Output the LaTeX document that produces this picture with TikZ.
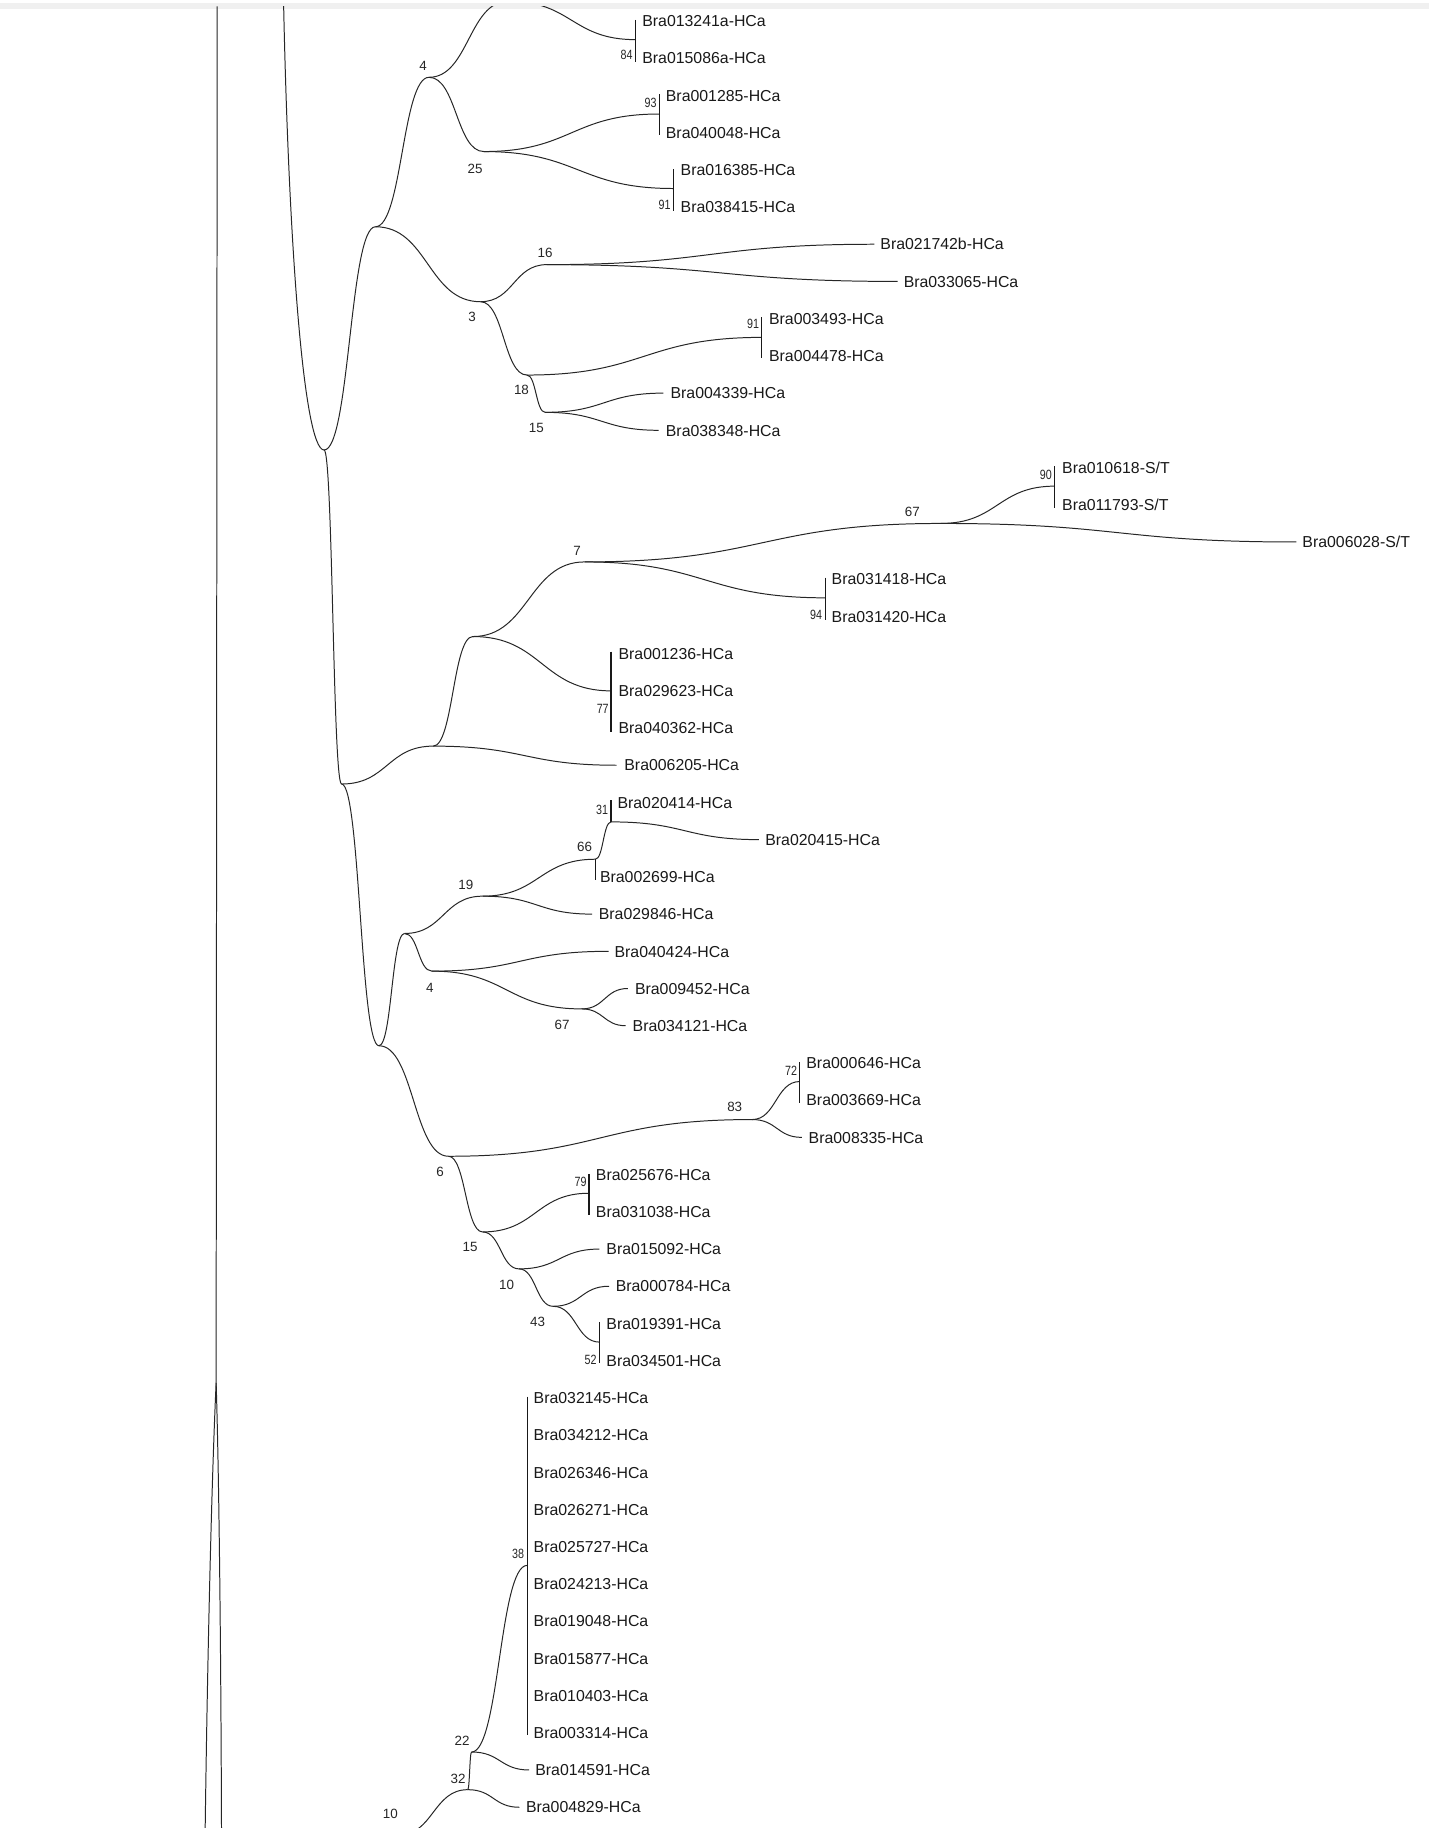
\documentclass[tikz,border=0pt]{standalone}
\usepackage{fontspec}
\setmainfont{Liberation Sans}
\usetikzlibrary{calc}
\tikzset{
  branch/.style={draw=black!85, line width=0.85pt},
  barline/.style={draw=black!90, line width=1.1pt},
  lab/.style={anchor=base west, inner sep=0pt, yshift=-4.9pt, font=\fontsize{13.6}{16}\selectfont, text=black!90},
  num/.style={anchor=base, inner sep=0pt, yshift=-4.1pt, font=\fontsize{11.5}{13}\selectfont, text=black!85},
  bnum/.style={num, xscale=0.8}
}
\newcommand\br[2]{\path[branch] let \p1=(#1), \p2=(#2) in (\p1) .. controls ({0.5*\x1+0.5*\x2},\y1) and ({0.5*\x1+0.5*\x2},\y2) .. (\p2);}
\begin{document}
\begin{tikzpicture}[x=1pt,y=-1pt]
\useasboundingbox (0,0) rectangle (1226,1568);
\fill[white] (0,0) rectangle (1226,1568);
\fill[gray!12] (0,3) rectangle (1226,7.5);
% ---------- tree nodes ----------
\coordinate (NU) at (278,386);
\coordinate (Ptop) at (243,-10);
\coordinate (Nr1) at (322,194.5);
\coordinate (N4) at (368,66.3);
\coordinate (X) at (436,1);
\coordinate (B01) at (545,34);
\coordinate (N25) at (415,130);
\coordinate (B23) at (565.5,97.8);
\coordinate (B45) at (577.6,161.7);
\coordinate (N3) at (412.2,258.8);
\coordinate (N16) at (469,227);
\coordinate (L6) at (750,209.5);
\coordinate (L7) at (770,241.4);
\coordinate (N18) at (452,321.7);
\coordinate (B89) at (653.4,289.4);
\coordinate (N15) at (467.6,353.7);
\coordinate (L10) at (569,337.2);
\coordinate (L11) at (565,369.1);
\coordinate (NB) at (293,672.5);
\coordinate (NC) at (371.6,640);
\coordinate (NE) at (405.6,546);
\coordinate (N7) at (501.4,482);
\coordinate (N67) at (807,449);
\coordinate (B1213) at (904.7,417);
\coordinate (L14) at (1112,464.9);
\coordinate (B1516) at (708.3,512.8);
\coordinate (B1719) at (524.2,592.6);
\coordinate (L20) at (529,656.4);
\coordinate (ND) at (325,897);
\coordinate (NF) at (347,800.7);
\coordinate (N19) at (413.9,768.7);
\coordinate (N66) at (510.7,737);
\coordinate (L23) at (510.7,755);
\coordinate (N31) at (524.2,705);
\coordinate (L21) at (524.2,686);
\coordinate (L22) at (651,720.2);
\coordinate (L24) at (508,784.1);
\coordinate (N4b) at (370.5,833);
\coordinate (L25) at (522,816);
\coordinate (N67b) at (499,865.4);
\coordinate (L26) at (538.5,847.9);
\coordinate (L27) at (536.6,879.8);
\coordinate (N6) at (384.7,991.8);
\coordinate (N83) at (645.2,960.3);
\coordinate (B2829) at (686,927.7);
\coordinate (L30) at (687.8,975.6);
\coordinate (N15b) at (413.9,1056.7);
\coordinate (B3132) at (505.3,1023.5);
\coordinate (N10) at (445.2,1088.4);
\coordinate (L33) at (514.2,1071.4);
\coordinate (N43) at (474.4,1120.5);
\coordinate (L34) at (522.4,1103.3);
\coordinate (B3536) at (514.2,1151.2);
\coordinate (N10c) at (342,1574);
\coordinate (N32) at (401.2,1535.1);
\coordinate (N22) at (404.5,1502.8);
\coordinate (N38) at (452.2,1342.7);
\coordinate (L47) at (453.8,1518.2);
\coordinate (L48) at (445.5,1550.2);
% left lines
\coordinate (Ltop) at (186.3,5.5);
\coordinate (Lsplit) at (185.4,1186);
\coordinate (Lbl) at (176,1568);
\coordinate (Lbr) at (190,1568);
% bars
\coordinate (b01t) at (545,17); \coordinate (b01b) at (545,53);
\coordinate (b23t) at (565.5,81); \coordinate (b23b) at (565.5,116);
\coordinate (b45t) at (577.6,145); \coordinate (b45b) at (577.6,181);
\coordinate (b89t) at (653.4,272); \coordinate (b89b) at (653.4,307.5);
\coordinate (b1213t) at (904.7,400); \coordinate (b1213b) at (904.7,436);
\coordinate (b1516t) at (708.3,495.5); \coordinate (b1516b) at (708.3,532);
\coordinate (b1719t) at (524.2,559); \coordinate (b1719b) at (524.2,628);
\coordinate (b2829t) at (686,911); \coordinate (b2829b) at (686,946);
\coordinate (b3132t) at (505.3,1007); \coordinate (b3132b) at (505.3,1042);
\coordinate (b3536t) at (514.2,1134); \coordinate (b3536b) at (514.2,1169);
\coordinate (b38t) at (452.2,1198); \coordinate (b38b) at (452.2,1488);

\begin{scope}
\clip (0,5.5) rectangle (1226,1568);
\path[branch] (Ptop) .. controls (247,200) and (260,386) .. (NU);
\br{NU}{Nr1} \br{NU}{NB}
\br{Nr1}{N4} \br{Nr1}{N3}
\br{N4}{X} \br{N4}{N25}
\br{X}{B01}
\br{N25}{B23} \br{N25}{B45}
\br{N3}{N16} \br{N3}{N18}
\br{N16}{L6} \br{N16}{L7}
\br{N18}{B89} \br{N18}{N15}
\br{N15}{L10} \br{N15}{L11}
\br{NB}{NC} \br{NB}{ND}
\br{NC}{NE} \br{NC}{L20}
\br{NE}{N7} \br{NE}{B1719}
\br{N7}{N67} \br{N7}{B1516}
\br{N67}{B1213} \br{N67}{L14}
\br{ND}{NF} \br{ND}{N6}
\br{NF}{N19} \br{NF}{N4b}
\br{N19}{N66} \br{N19}{L24}
\br{N66}{N31}
\path[barline] (N66) -- (L23);
\path[barline] (N31) -- (L21);
\br{N31}{L22}
\br{N4b}{L25} \br{N4b}{N67b}
\br{N67b}{L26} \br{N67b}{L27}
\br{N6}{N83} \br{N6}{N15b}
\br{N83}{B2829} \br{N83}{L30}
\br{N15b}{B3132} \br{N15b}{N10}
\br{N10}{L33} \br{N10}{N43}
\br{N43}{L34} \br{N43}{B3536}
\br{N10c}{N32}
\br{N32}{N22} \br{N32}{L48}
\br{N22}{N38} \br{N22}{L47}
\path[branch] (Ltop) -- (Lsplit);
\path[branch] (Lsplit) .. controls (181.5,1270) and (178,1420) .. (Lbl);
\path[branch] (Lsplit) .. controls (188,1270) and (189.5,1420) .. (Lbr);
\end{scope}
% bars
\foreach \b in {01,23,45,89,1213,1516,1719,2829,3132,3536,38}{\path[barline] (b\b t) -- (b\b b);}

% ---------- leaf labels ----------
\node[lab] (t0) at (550.8,18.0) {Bra013241a-HCa};
\node[lab] (t1) at (550.8,49.9) {Bra015086a-HCa};
\node[lab] (t2) at (571,81.8) {Bra001285-HCa};
\node[lab] (t3) at (571,113.8) {Bra040048-HCa};
\node[lab] (t4) at (583.7,145.7) {Bra016385-HCa};
\node[lab] (t5) at (583.7,177.6) {Bra038415-HCa};
\node[lab] (t6) at (755,209.5) {Bra021742b-HCa};
\node[lab] (t7) at (775,241.4) {Bra033065-HCa};
\node[lab] (t8) at (659.5,273.4) {Bra003493-HCa};
\node[lab] (t9) at (659.5,305.3) {Bra004478-HCa};
\node[lab] (t10) at (575,337.2) {Bra004339-HCa};
\node[lab] (t11) at (571,369.1) {Bra038348-HCa};
\node[lab] (t12) at (910.9,401.0) {Bra010618-S/T};
\node[lab] (t13) at (910.9,433.0) {Bra011793-S/T};
\node[lab] (t14) at (1117,464.9) {Bra006028-S/T};
\node[lab] (t15) at (713.2,496.8) {Bra031418-HCa};
\node[lab] (t16) at (713.2,528.7) {Bra031420-HCa};
\node[lab] (t17) at (530.4,560.6) {Bra001236-HCa};
\node[lab] (t18) at (530.4,592.6) {Bra029623-HCa};
\node[lab] (t19) at (530.4,624.5) {Bra040362-HCa};
\node[lab] (t20) at (535.4,656.4) {Bra006205-HCa};
\node[lab] (t21) at (529.5,688.3) {Bra020414-HCa};
\node[lab] (t22) at (656.3,720.2) {Bra020415-HCa};
\node[lab] (t23) at (514.5,752.2) {Bra002699-HCa};
\node[lab] (t24) at (513.5,784.1) {Bra029846-HCa};
\node[lab] (t25) at (527,816.0) {Bra040424-HCa};
\node[lab] (t26) at (544.5,847.9) {Bra009452-HCa};
\node[lab] (t27) at (542.5,879.8) {Bra034121-HCa};
\node[lab] (t28) at (691.5,911.8) {Bra000646-HCa};
\node[lab] (t29) at (691.5,943.7) {Bra003669-HCa};
\node[lab] (t30) at (693.5,975.6) {Bra008335-HCa};
\node[lab] (t31) at (511,1007.5) {Bra025676-HCa};
\node[lab] (t32) at (511,1039.4) {Bra031038-HCa};
\node[lab] (t33) at (520,1071.4) {Bra015092-HCa};
\node[lab] (t34) at (528,1103.3) {Bra000784-HCa};
\node[lab] (t35) at (520,1135.2) {Bra019391-HCa};
\node[lab] (t36) at (520,1167.1) {Bra034501-HCa};
\node[lab] (t37) at (457.6,1199.0) {Bra032145-HCa};
\node[lab] (t38) at (457.6,1231.0) {Bra034212-HCa};
\node[lab] (t39) at (457.6,1262.9) {Bra026346-HCa};
\node[lab] (t40) at (457.6,1294.8) {Bra026271-HCa};
\node[lab] (t41) at (457.6,1326.7) {Bra025727-HCa};
\node[lab] (t42) at (457.6,1358.6) {Bra024213-HCa};
\node[lab] (t43) at (457.6,1390.6) {Bra019048-HCa};
\node[lab] (t44) at (457.6,1422.5) {Bra015877-HCa};
\node[lab] (t45) at (457.6,1454.4) {Bra010403-HCa};
\node[lab] (t46) at (457.6,1486.3) {Bra003314-HCa};
\node[lab] (t47) at (459,1518.2) {Bra014591-HCa};
\node[lab] (t48) at (451,1550.2) {Bra004829-HCa};

% ---------- support values ----------
\node[num] (s1) at (363,56.6) {4};
\node[bnum] (s2) at (537.5,47.2) {84};
\node[bnum] (s3) at (558,88) {93};
\node[num] (s4) at (407.5,144.4) {25};
\node[bnum] (s5) at (570,176) {91};
\node[num] (s6) at (467.6,217) {16};
\node[num] (s7) at (405,271.7) {3};
\node[bnum] (s8) at (646,277.5) {91};
\node[num] (s9) at (447.3,334.6) {18};
\node[num] (s10) at (460,367) {15};
\node[bnum] (s11) at (897,407.5) {90};
\node[num] (s12) at (782.5,439) {67};
\node[num] (s13) at (495,472) {7};
\node[bnum] (s14) at (700,527.6) {94};
\node[bnum] (s15) at (517,607.7) {77};
\node[bnum] (s16) at (516.5,694.4) {31};
\node[num] (s17) at (501.4,726.4) {66};
\node[num] (s18) at (399.6,758.7) {19};
\node[num] (s19) at (368.7,847) {4};
\node[num] (s20) at (482.2,878.8) {67};
\node[bnum] (s21) at (678.5,918) {72};
\node[num] (s22) at (630.2,949.5) {83};
\node[num] (s23) at (377.5,1005) {6};
\node[bnum] (s24) at (498,1013.8) {79};
\node[num] (s25) at (403.2,1069.6) {15};
\node[num] (s26) at (434.5,1101.6) {10};
\node[num] (s27) at (461.2,1133.9) {43};
\node[bnum] (s28) at (506.6,1165.9) {52};
\node[bnum] (s29) at (444.5,1332.6) {38};
\node[num] (s30) at (396.3,1493.4) {22};
\node[num] (s31) at (393,1525.7) {32};
\node[num] (s32) at (334.9,1555.7) {10};
\end{tikzpicture}
\end{document}
